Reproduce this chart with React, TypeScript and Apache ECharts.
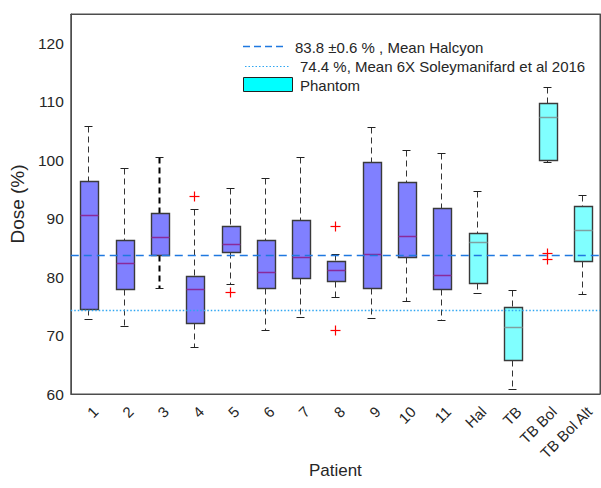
import React, { useEffect, useRef } from "react";
import * as echarts from "echarts";

const categories = ["1", "2", "3", "4", "5", "6", "7", "8", "9", "10", "11", "Hal", "TB", "TB Bol", "TB Bol Alt"];
const phantomCategories = ["Hal", "TB", "TB Bol", "TB Bol Alt"];
const whiskerLow = [72.9, 71.6, 78.2, 68.0, 78.8, 71.0, 73.2, 76.6, 73.0, 75.9, 72.6, 77.3, 60.8, 99.7, 77.1];
const q1 = [74.6, 77.9, 83.7, 72.1, 84.3, 78.2, 79.8, 79.4, 78.2, 83.5, 78.0, 79.0, 65.9, 100.1, 82.8];
const median = [90.6, 82.4, 86.9, 77.9, 85.7, 80.9, 83.5, 81.2, 83.9, 87.0, 80.4, 86.0, 71.5, 107.4, 88.1];
const q3 = [96.5, 86.4, 91.0, 80.2, 88.8, 86.4, 89.8, 82.8, 99.7, 96.2, 91.9, 87.5, 74.9, 109.7, 92.1];
const whiskerHigh = [105.9, 98.7, 100.6, 91.6, 95.2, 96.9, 100.6, 83.9, 105.6, 101.7, 101.3, 94.7, 77.8, 112.5, 94.0];
const outlierCategory = ["4", "5", "8", "8", "TB Bol", "TB Bol"];
const outlierValue = [93.9, 77.5, 88.8, 70.9, 84.2, 83.1];
const meanHalcyon = 83.8;
const meanSoleymanifard = 74.4;
const legendLabels = ["83.8 \u00B10.6 % , Mean Halcyon", "74.4 %, Mean 6X Soleymanifard et al 2016", "Phantom"];
const yTicks = [60, 70, 80, 90, 100, 110, 120];

const FONT = "'Liberation Sans', Arial, Helvetica, sans-serif";
const TXT = "#262626";
const AX = "#4d4d4d";
const HAL_COLOR = "#1f78e0";
const SOL_COLOR = "#2fa6f2";

export default function App() {
  const ref = useRef<HTMLDivElement>(null);
  useEffect(() => {
    document.body.style.margin = "0";
    if (!ref.current) return;
    const chart = echarts.init(ref.current, undefined, { renderer: "svg" });
    const px = (v: number) => Math.round(v) + 0.5;

    const boxData = categories.map((c, i) => [i, whiskerLow[i], q1[i], median[i], q3[i], whiskerHigh[i]]);
    const outData = outlierCategory.map((c, i) => [categories.indexOf(c), outlierValue[i]]);
    const refData = [[0, meanHalcyon], [0, meanSoleymanifard]];

    const renderBox = (params: any, api: any) => {
      const i = api.value(0);
      const name = categories[i];
      const phantom = phantomCategories.indexOf(name) >= 0;
      const x = px(api.coord([i, 0])[0]);
      const yl = px(api.coord([i, api.value(1)])[1]);
      const y1 = px(api.coord([i, api.value(2)])[1]);
      const ym = px(api.coord([i, api.value(3)])[1]);
      const y3 = px(api.coord([i, api.value(4)])[1]);
      const yh = px(api.coord([i, api.value(5)])[1]);
      const bw = Math.round(api.size([1, 0])[0] * 0.5);
      const left = Math.round(x - bw / 2) + 0.5;
      const bold = i === 2;
      const wStyle = { stroke: bold ? "#000" : "#333", lineWidth: bold ? 2 : 1, lineDash: [6, 4] };
      const capStyle = { stroke: "#222", lineWidth: 1 };
      return {
        type: "group",
        children: [
          { type: "line", shape: { x1: x, y1: yh, x2: x, y2: y3 }, style: wStyle },
          { type: "line", shape: { x1: x, y1: y1, x2: x, y2: yl }, style: wStyle },
          { type: "line", shape: { x1: x - 4, y1: yh, x2: x + 4, y2: yh }, style: capStyle },
          { type: "line", shape: { x1: x - 4, y1: yl, x2: x + 4, y2: yl }, style: capStyle },
          {
            type: "rect",
            shape: { x: left, y: y3, width: bw, height: y1 - y3 },
            style: { fill: phantom ? "#80ffff" : "#8080ff", stroke: "#3a3a3a", lineWidth: 1.4 },
          },
          {
            type: "line",
            shape: { x1: left, y1: ym, x2: left + bw, y2: ym },
            style: { stroke: phantom ? "#7fa0a0" : "#8a2a9a", lineWidth: 1.5 },
          },
        ],
      };
    };

    const renderOut = (params: any, api: any) => {
      const p = api.coord([api.value(0), api.value(1)]);
      const x = px(p[0]);
      const y = px(p[1]);
      const s = { stroke: "#ff0000", lineWidth: 1.2 };
      return {
        type: "group",
        children: [
          { type: "line", shape: { x1: x - 5, y1: y, x2: x + 5, y2: y }, style: s },
          { type: "line", shape: { x1: x, y1: y - 5, x2: x, y2: y + 5 }, style: s },
        ],
      };
    };

    const renderRef = (params: any, api: any) => {
      const cs = params.coordSys;
      const y = px(api.coord([0, api.value(1)])[1]);
      const hal = params.dataIndex === 0;
      return {
        type: "line",
        shape: { x1: cs.x, y1: y, x2: cs.x + cs.width, y2: y },
        style: hal
          ? { stroke: HAL_COLOR, lineWidth: 1.5, lineDash: [8, 5] }
          : { stroke: SOL_COLOR, lineWidth: 1.3, lineDash: [1.5, 2] },
      };
    };

    const legendX = 243;
    const textStyle = (t: string, x: number, y: number) => ({
      type: "text",
      x,
      y,
      style: { text: t, fill: TXT, font: `15px ${FONT}`, textVerticalAlign: "middle" },
    });

    const gridTop = 14;
    const gridBottom = 94;

    chart.setOption({
      animation: false,
      grid: { left: 69, right: 1, top: gridTop, bottom: gridBottom, show: true, borderColor: AX, borderWidth: 1 },
      xAxis: [
        {
          type: "category",
          data: categories,
          boundaryGap: true,
          position: "bottom",
          axisLine: { lineStyle: { color: AX } },
          axisTick: { inside: true, alignWithLabel: true, length: 5, lineStyle: { color: AX } },
          axisLabel: { show: false },
          name: "Patient",
          nameLocation: "middle",
          nameGap: 68,
          nameTextStyle: { fontSize: 17, color: TXT, fontFamily: FONT },
        },
        {
          type: "category",
          data: categories,
          boundaryGap: true,
          position: "top",
          axisLine: { lineStyle: { color: AX } },
          axisTick: { inside: true, alignWithLabel: true, length: 5, lineStyle: { color: AX } },
          axisLabel: { show: false },
        },
      ],
      yAxis: [
        {
          type: "value",
          min: 60,
          max: 125,
          interval: 10,
          splitLine: { show: false },
          axisLine: { show: true, lineStyle: { color: AX } },
          axisTick: { inside: true, length: 5, lineStyle: { color: AX } },
          axisLabel: {
            fontSize: 15.5,
            color: TXT,
            fontFamily: FONT,
            margin: 7,
            formatter: (v: number) => (yTicks.indexOf(v) >= 0 ? String(v) : ""),
          },
          name: "Dose (%)",
          nameLocation: "middle",
          nameGap: 40,
          nameTextStyle: { fontSize: 19, color: TXT, fontFamily: FONT },
        },
        {
          type: "value",
          min: 60,
          max: 125,
          interval: 10,
          position: "right",
          splitLine: { show: false },
          axisLine: { show: true, lineStyle: { color: AX } },
          axisTick: { inside: true, length: 5, lineStyle: { color: AX } },
          axisLabel: { show: false },
        },
      ],
      series: [
        {
          type: "custom",
          name: "boxes",
          renderItem: renderBox,
          data: boxData,
          encode: { x: 0, y: [1, 2, 3, 4, 5] },
          z: 2,
        },
        {
          type: "custom",
          name: "means",
          renderItem: renderRef,
          data: refData,
          encode: { x: 0, y: 1 },
          z: 4,
          silent: true,
        },
        {
          type: "custom",
          name: "outliers",
          renderItem: renderOut,
          data: outData,
          encode: { x: 0, y: 1 },
          z: 5,
        },
      ],
    });

    const axisY = chart.convertToPixel({ yAxisIndex: 0 }, 60) as number;
    const labelGraphics = categories.map((c) => {
      const x = chart.convertToPixel({ xAxisIndex: 0 }, c) as number;
      return {
        type: "text",
        x: x + 7,
        y: axisY + 15,
        rotation: Math.PI / 4,
        style: { text: c, fill: TXT, font: `15px ${FONT}`, textAlign: "right", textVerticalAlign: "middle" },
      };
    });

    chart.setOption({
      graphic: [
        {
          type: "line",
          shape: { x1: legendX, y1: 46.5, x2: legendX + 41, y2: 46.5 },
          style: { stroke: HAL_COLOR, lineWidth: 1.3, lineDash: [7, 4] },
        },
        textStyle(legendLabels[0], 295, 47),
        {
          type: "line",
          shape: { x1: legendX + 2, y1: 66.5, x2: legendX + 46, y2: 66.5 },
          style: { stroke: SOL_COLOR, lineWidth: 1.2, lineDash: [1.5, 2] },
        },
        textStyle(legendLabels[1], 300, 66),
        {
          type: "rect",
          shape: { x: legendX + 0.5, y: 77.5, width: 49, height: 14 },
          style: { fill: "#00ffff", stroke: "#222", lineWidth: 1 },
        },
        textStyle(legendLabels[2], 300, 85),
        ...labelGraphics,
      ],
    });
    return () => chart.dispose();
  }, []);
  return <div ref={ref} style={{ width: 601, height: 488 }} />;
}
